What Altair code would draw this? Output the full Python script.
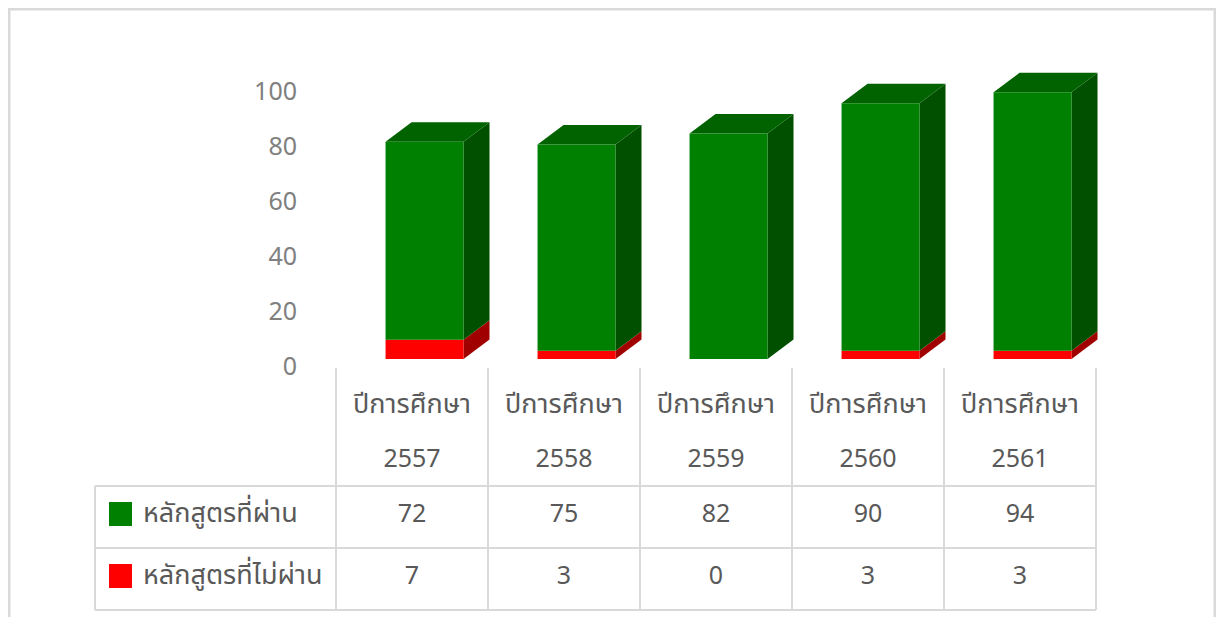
import altair as alt
import pandas as pd

# ---------------- data ----------------
years = ["2557", "2558", "2559", "2560", "2561"]
header_label = "ปีการศึกษา"
passed = [72, 75, 82, 90, 94]
failed = [7, 3, 0, 3, 3]
series_names = ["หลักสูตรที่ผ่าน", "หลักสูตรที่ไม่ผ่าน"]
y_ticks = [0, 20, 40, 60, 80, 100]

# ---------------- styles ----------------
front_colors = ["#008000", "#FF0000"]
side_colors = ["#005000", "#A00000"]
top_color = "#006300"
grid_color = "#D9D9D9"
text_color = "#595959"
axis_color = "#808080"
FONT = "Noto Sans Thai, Leelawadee UI, Tahoma, Noto Sans, sans-serif"
FS_THAI = 27
FS_NUM = 25

W, H = 1208, 609
BAR_L, BAR_R = -0.174, 0.339      # front face edges relative to column centre
DEPTH_X, DEPTH_Y = 0.171, 7.05     # 3-D depth offset (category units, value units)

xs = alt.Scale(domain=[-2.6579, 5.2895], nice=False, zero=False)
ys = alt.Scale(domain=[-93.82, 127.64], nice=False, zero=False)

# ---------------- build tables ----------------
fronts, sides, tops = [], [], []
for i, (p, f) in enumerate(zip(passed, failed)):
    segs = [(0, f, 1), (f, f + p, 0)]
    for lo, hi, s in segs:
        if hi <= lo:
            continue
        fronts.append(dict(x0=i + BAR_L, x1=i + BAR_R, lo=lo, hi=hi, c=front_colors[s]))
        key = f"{i}-{s}"
        sides.append(dict(k=key, x=i + BAR_R, lo=lo, hi=hi, c=side_colors[s]))
        sides.append(dict(k=key, x=i + BAR_R + DEPTH_X, lo=lo + DEPTH_Y, hi=hi + DEPTH_Y, c=side_colors[s]))
    t = f + p
    tops.append(dict(k=str(i), y=t, xa=i + BAR_L, xb=i + BAR_R))
    tops.append(dict(k=str(i), y=t + DEPTH_Y, xa=i + BAR_L + DEPTH_X, xb=i + BAR_R + DEPTH_X))

df_front = pd.DataFrame(fronts)
df_side = pd.DataFrame(sides)
df_top = pd.DataFrame(tops)
df_cols = pd.DataFrame(dict(pos=list(range(len(years))), year=years,
                            passed=[str(v) for v in passed], failed=[str(v) for v in failed],
                            header=[header_label] * len(years)))
df_bounds = pd.DataFrame(dict(b=[k - 0.5 for k in range(len(years) + 1)]))
df_ticks = pd.DataFrame(dict(v=y_ticks))
one = pd.DataFrame(dict(a=[0]))

# ---------------- layers ----------------
axis_layer = alt.Chart(df_ticks).mark_text(
    font=FONT, fontSize=FS_NUM, color=axis_color, align="right", baseline="middle", dy=8
).encode(
    x=alt.value(289),
    y=alt.Y("v:Q", scale=ys, axis=None),
    text=alt.Text("v:Q"),
)

side_layer = alt.Chart(df_side).mark_area(orient="vertical", interpolate="linear").encode(
    x=alt.X("x:Q", scale=xs, axis=None),
    y=alt.Y("hi:Q", scale=ys, axis=None, stack=None),
    y2="lo:Q",
    detail="k:N",
    color=alt.Color("c:N", scale=None),
)

top_layer = alt.Chart(df_top).mark_area(orient="horizontal", interpolate="linear", color=top_color).encode(
    y=alt.Y("y:Q", scale=ys, axis=None),
    x=alt.X("xa:Q", scale=xs, axis=None, stack=None),
    x2="xb:Q",
    detail="k:N",
)

front_layer = alt.Chart(df_front).mark_rect().encode(
    x=alt.X("x0:Q", scale=xs, axis=None),
    x2="x1:Q",
    y=alt.Y("hi:Q", scale=ys, axis=None),
    y2="lo:Q",
    color=alt.Color("c:N", scale=None),
)

vlines = alt.Chart(df_bounds).mark_rule(color=grid_color, strokeWidth=2).encode(
    x=alt.X("b:Q", scale=xs, axis=None),
    y=alt.value(360), y2=alt.value(602),
)

hlines = [
    alt.Chart(one).mark_rule(color=grid_color, strokeWidth=2).encode(
        x=alt.value(87), x2=alt.value(1088), y=alt.value(yy))
    for yy in (478, 540, 602)
]
left_line = alt.Chart(one).mark_rule(color=grid_color, strokeWidth=2).encode(
    x=alt.value(87), y=alt.value(478), y2=alt.value(602))

frame = [
    alt.Chart(one).mark_rule(color=grid_color, strokeWidth=3).encode(
        x=alt.value(0), x2=alt.value(W), y=alt.value(1)),
    alt.Chart(one).mark_rule(color=grid_color, strokeWidth=3).encode(
        x=alt.value(1), y=alt.value(0), y2=alt.value(H)),
    alt.Chart(one).mark_rule(color=grid_color, strokeWidth=3).encode(
        x=alt.value(W - 1), y=alt.value(0), y2=alt.value(H)),
]

def col_text(field, ypx, fs):
    return alt.Chart(df_cols).mark_text(font=FONT, fontSize=fs, color=text_color,
                                        baseline="middle", align="center").encode(
        x=alt.X("pos:Q", scale=xs, axis=None),
        y=alt.value(ypx),
        text=f"{field}:N",
    )

texts = [col_text("header", 397, FS_THAI), col_text("year", 451, FS_NUM),
         col_text("passed", 506, FS_NUM), col_text("failed", 568, FS_NUM)]

legend = []
for s, ypx in zip(range(2), (506, 568)):
    legend.append(alt.Chart(one).mark_rect(color=front_colors[s]).encode(
        x=alt.value(101), x2=alt.value(124), y=alt.value(ypx - 12), y2=alt.value(ypx + 12)))
    legend.append(alt.Chart(pd.DataFrame(dict(t=[series_names[s]]))).mark_text(
        font=FONT, fontSize=FS_THAI, color=text_color, align="left", baseline="middle").encode(
        x=alt.value(135), y=alt.value(ypx), text="t:N"))

chart = alt.layer(
    axis_layer, side_layer, top_layer, front_layer, vlines, *hlines, left_line,
    *frame, *texts, *legend
).properties(
    width=W, height=H, padding=0, autosize=alt.AutoSizeParams(type="none")
).configure_view(stroke=None)

chart.save("out.html", embed_options={"renderer": "svg", "actions": False})
